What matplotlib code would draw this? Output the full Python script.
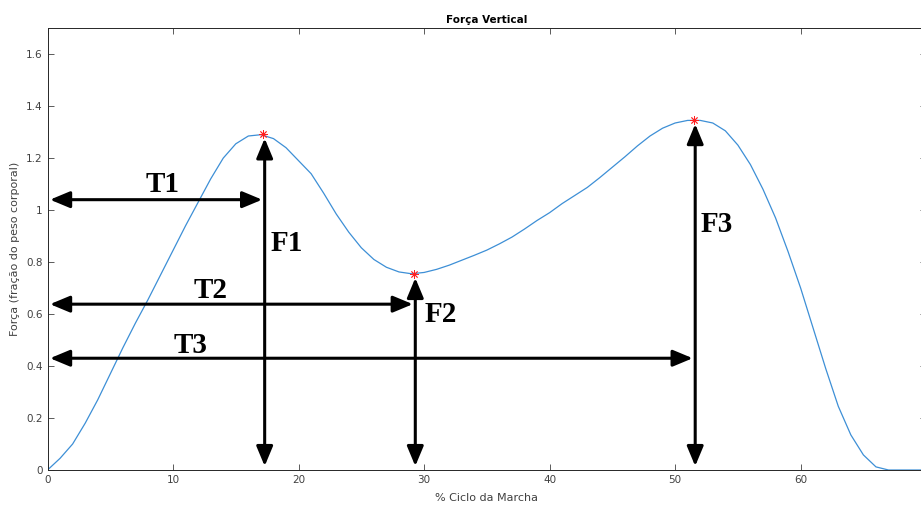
import numpy as np
import matplotlib.pyplot as plt
from matplotlib.ticker import FormatStrFormatter

# curva da força vertical (% ciclo x fração do peso corporal)
ciclo = list(range(0, 71))
forca = [0.0, 0.045, 0.10, 0.18, 0.27, 0.37, 0.47, 0.565, 0.655, 0.75,
         0.845, 0.94, 1.03, 1.12, 1.20, 1.255, 1.285, 1.29, 1.275, 1.24,
         1.19, 1.14, 1.065, 0.985, 0.915, 0.855, 0.81, 0.78, 0.762, 0.755,
         0.76, 0.772, 0.788, 0.807, 0.826, 0.846, 0.87, 0.896, 0.927, 0.96,
         0.99, 1.025, 1.056, 1.087, 1.125, 1.165, 1.205, 1.247, 1.285, 1.315,
         1.335, 1.345, 1.345, 1.335, 1.305, 1.25, 1.175, 1.08, 0.97, 0.84,
         0.70, 0.545, 0.39, 0.245, 0.135, 0.058, 0.012, 0.0, 0.0, 0.0, 0.0]

# picos / vale marcados
pico_x = [17.2, 29.2, 51.5]
pico_y = [1.291, 0.754, 1.346]
pico_nome = ['F1', 'F2', 'F3']
tempo_nome = ['T1', 'T2', 'T3']
tempo_y = [1.04, 0.638, 0.43]

fig = plt.figure(figsize=(9.21, 5.05), dpi=100)
ax = fig.add_axes([0.0516, 0.0693, 0.954, 0.875])

ax.plot(ciclo, forca, color='#3d8fd6', linewidth=0.9)
ax.plot(pico_x, pico_y, marker=(8, 2, 0), linestyle='none', color='#ff2020',
        markersize=6, markeredgewidth=0.6)

ax.set_xlim(0, 70)
ax.set_ylim(0, 1.7)
ax.set_xticks(np.arange(0, 70, 10))
ax.set_yticks(np.arange(0, 1.61, 0.2))
ax.yaxis.set_major_formatter(FormatStrFormatter('%g'))
ax.tick_params(direction='in', top=True, right=True, labelsize=7.5,
               colors='#404040', length=4, width=0.6)
for s in ax.spines.values():
    s.set_color('#262626')
    s.set_linewidth(0.7)

ax.set_title('Força Vertical', fontsize=7.5, fontweight='bold', pad=4)
ax.set_xlabel('% Ciclo da Marcha', fontsize=8, color='#404040', labelpad=6)
ax.set_ylabel('Força (fração do peso corporal)', fontsize=8, color='#404040', labelpad=4)

seta = dict(arrowstyle='<|-|>,head_length=1.2,head_width=0.5', color='black',
            lw=2.2, shrinkA=0, shrinkB=0)
fonte = dict(family='Liberation Serif', fontweight='bold', fontsize=21, color='black')

# setas verticais (F)
for px, py, nome in zip(pico_x, pico_y, pico_nome):
    ax.annotate('', xy=(px + 0.1, py - 0.015), xytext=(px + 0.1, 0.015), arrowprops=seta)

# setas horizontais (T)
for px, ty in zip(pico_x, tempo_y):
    ax.annotate('', xy=(0.2, ty), xytext=(px - 0.1, ty), arrowprops=seta)

ax.text(9.2, 1.10, tempo_nome[0], ha='center', va='center', **fonte)
ax.text(13.0, 0.69, tempo_nome[1], ha='center', va='center', **fonte)
ax.text(11.4, 0.48, tempo_nome[2], ha='center', va='center', **fonte)
ax.text(17.8, 0.87, pico_nome[0], ha='left', va='center', **fonte)
ax.text(30.0, 0.60, pico_nome[1], ha='left', va='center', **fonte)
ax.text(52.0, 0.945, pico_nome[2], ha='left', va='center', **fonte)

fig.savefig('out.png', dpi=100)
